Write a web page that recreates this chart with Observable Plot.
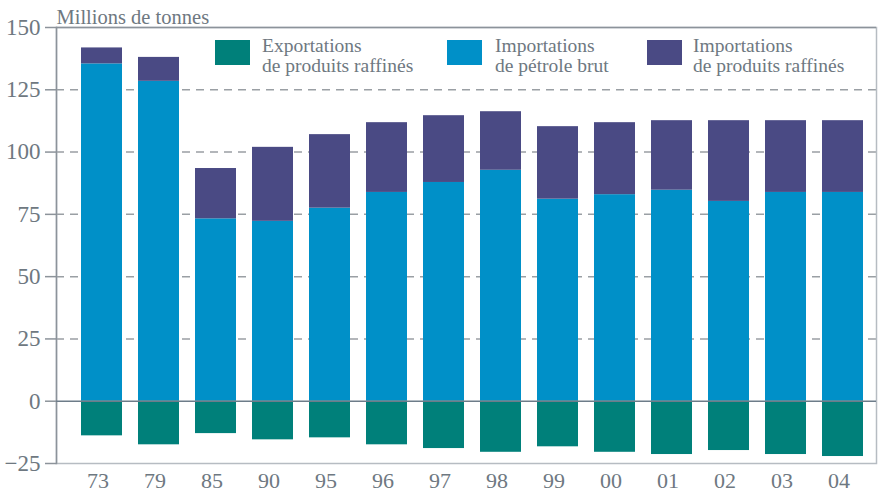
<!DOCTYPE html>
<html><head><meta charset="utf-8">
<script src="https://cdn.jsdelivr.net/npm/d3@7"></script>
<script src="https://cdn.jsdelivr.net/npm/@observablehq/plot@0.6"></script>
<style>
body{margin:0;background:#fff;}
#wrap{position:relative;width:881px;height:493px;font-family:"Liberation Serif","Times New Roman",serif;color:#6e7881;}
.sw{position:absolute;top:40px;width:35px;height:25px;}
.lt{position:absolute;top:36px;font-size:19.5px;line-height:19.5px;white-space:nowrap;}
svg{display:block;}
</style></head><body><div id="wrap"></div>
<script>
const years = ["73","79","85","90","95","96","97","98","99","00","01","02","03","04"];
const importsCrude    = [135.4, 128.4, 73.2, 72.2, 77.5, 83.8, 87.8, 92.7, 81.1, 82.9, 84.7, 80.2, 83.8, 83.8];
const importsRefined  = [6.4, 9.6, 20.2, 29.7, 29.5, 28.0, 26.8, 23.5, 29.1, 28.9, 27.9, 32.4, 28.8, 28.8];
const exportsRefined  = [-13.9, -17.5, -13.0, -15.5, -14.7, -17.5, -19.0, -20.5, -18.3, -20.5, -21.4, -19.8, -21.4, -22.2];
const seriesNames = ["Exportations de produits raffinés", "Importations de pétrole brut", "Importations de produits raffinés"];
const seriesLines = [["Exportations","de produits raffinés"],["Importations","de pétrole brut"],["Importations","de produits raffinés"]];
const seriesColors = ["#00807a", "#0090c8", "#4a4a84"];
const yTicks = [-25, 0, 25, 50, 75, 100, 125, 150];
const gridTicks = [25, 50, 75, 100, 125];
const unitLabel = "Millions de tonnes";

const rows = [];
years.forEach((y, i) => rows.push({year: y, value: importsCrude[i], series: seriesNames[1]}));
years.forEach((y, i) => rows.push({year: y, value: importsRefined[i], series: seriesNames[2]}));
years.forEach((y, i) => rows.push({year: y, value: exportsRefined[i], series: seriesNames[0]}));

const textColor = "#6e7881";
const chart = Plot.plot({
  width: 881,
  height: 493,
  marginLeft: 56,
  marginRight: 5,
  marginTop: 27,
  marginBottom: 30,
  style: {fontFamily: '"Liberation Serif","Times New Roman",serif', background: "#fff", overflow: "visible"},
  x: {domain: years, paddingInner: 0.275, paddingOuter: 0.216, align: 0.66},
  y: {domain: [-25, 150]},
  color: {domain: seriesNames, range: seriesColors},
  marks: [
    Plot.ruleY(gridTicks, {stroke: "#9a9fa4", strokeWidth: 1.5, strokeDasharray: "8,6", strokeDashoffset: -14}),
    Plot.barY(rows, {x: "year", y: "value", fill: "series"}),
    Plot.frame({stroke: "#b6bcc2", strokeWidth: 1.5}),
    Plot.ruleY([150], {stroke: "#8c939a", strokeWidth: 1.5}),
    Plot.frame({anchor: "left", stroke: "#8c939a", strokeWidth: 1.5}),
    Plot.ruleY([0], {stroke: "#6d7c89", strokeWidth: 1.5}),
    Plot.axisY(yTicks, {tickSize: 11, tickPadding: 5, fontSize: 23, color: textColor, stroke: "#8c939a", strokeWidth: 1.5, label: null}),
    Plot.axisX({tickSize: 0, tickPadding: 9, fontSize: 22, fill: textColor, dx: -4, label: null}),
    Plot.text([unitLabel], {frameAnchor: "top-left", textAnchor: "start", lineAnchor: "bottom", dy: -4, fontSize: 20.5, fill: textColor})
  ]
});
const wrap = document.getElementById("wrap");
wrap.appendChild(chart);

const swLeft = [215, 447, 647];
const txLeft = [262, 495, 693];
seriesLines.forEach((lines, i) => {
  const sw = document.createElement("div");
  sw.className = "sw";
  sw.style.left = swLeft[i] + "px";
  sw.style.background = seriesColors[i];
  wrap.appendChild(sw);
  const t = document.createElement("div");
  t.className = "lt";
  t.style.left = txLeft[i] + "px";
  t.innerHTML = lines.join("<br>");
  wrap.appendChild(t);
});
</script>
</body></html>
